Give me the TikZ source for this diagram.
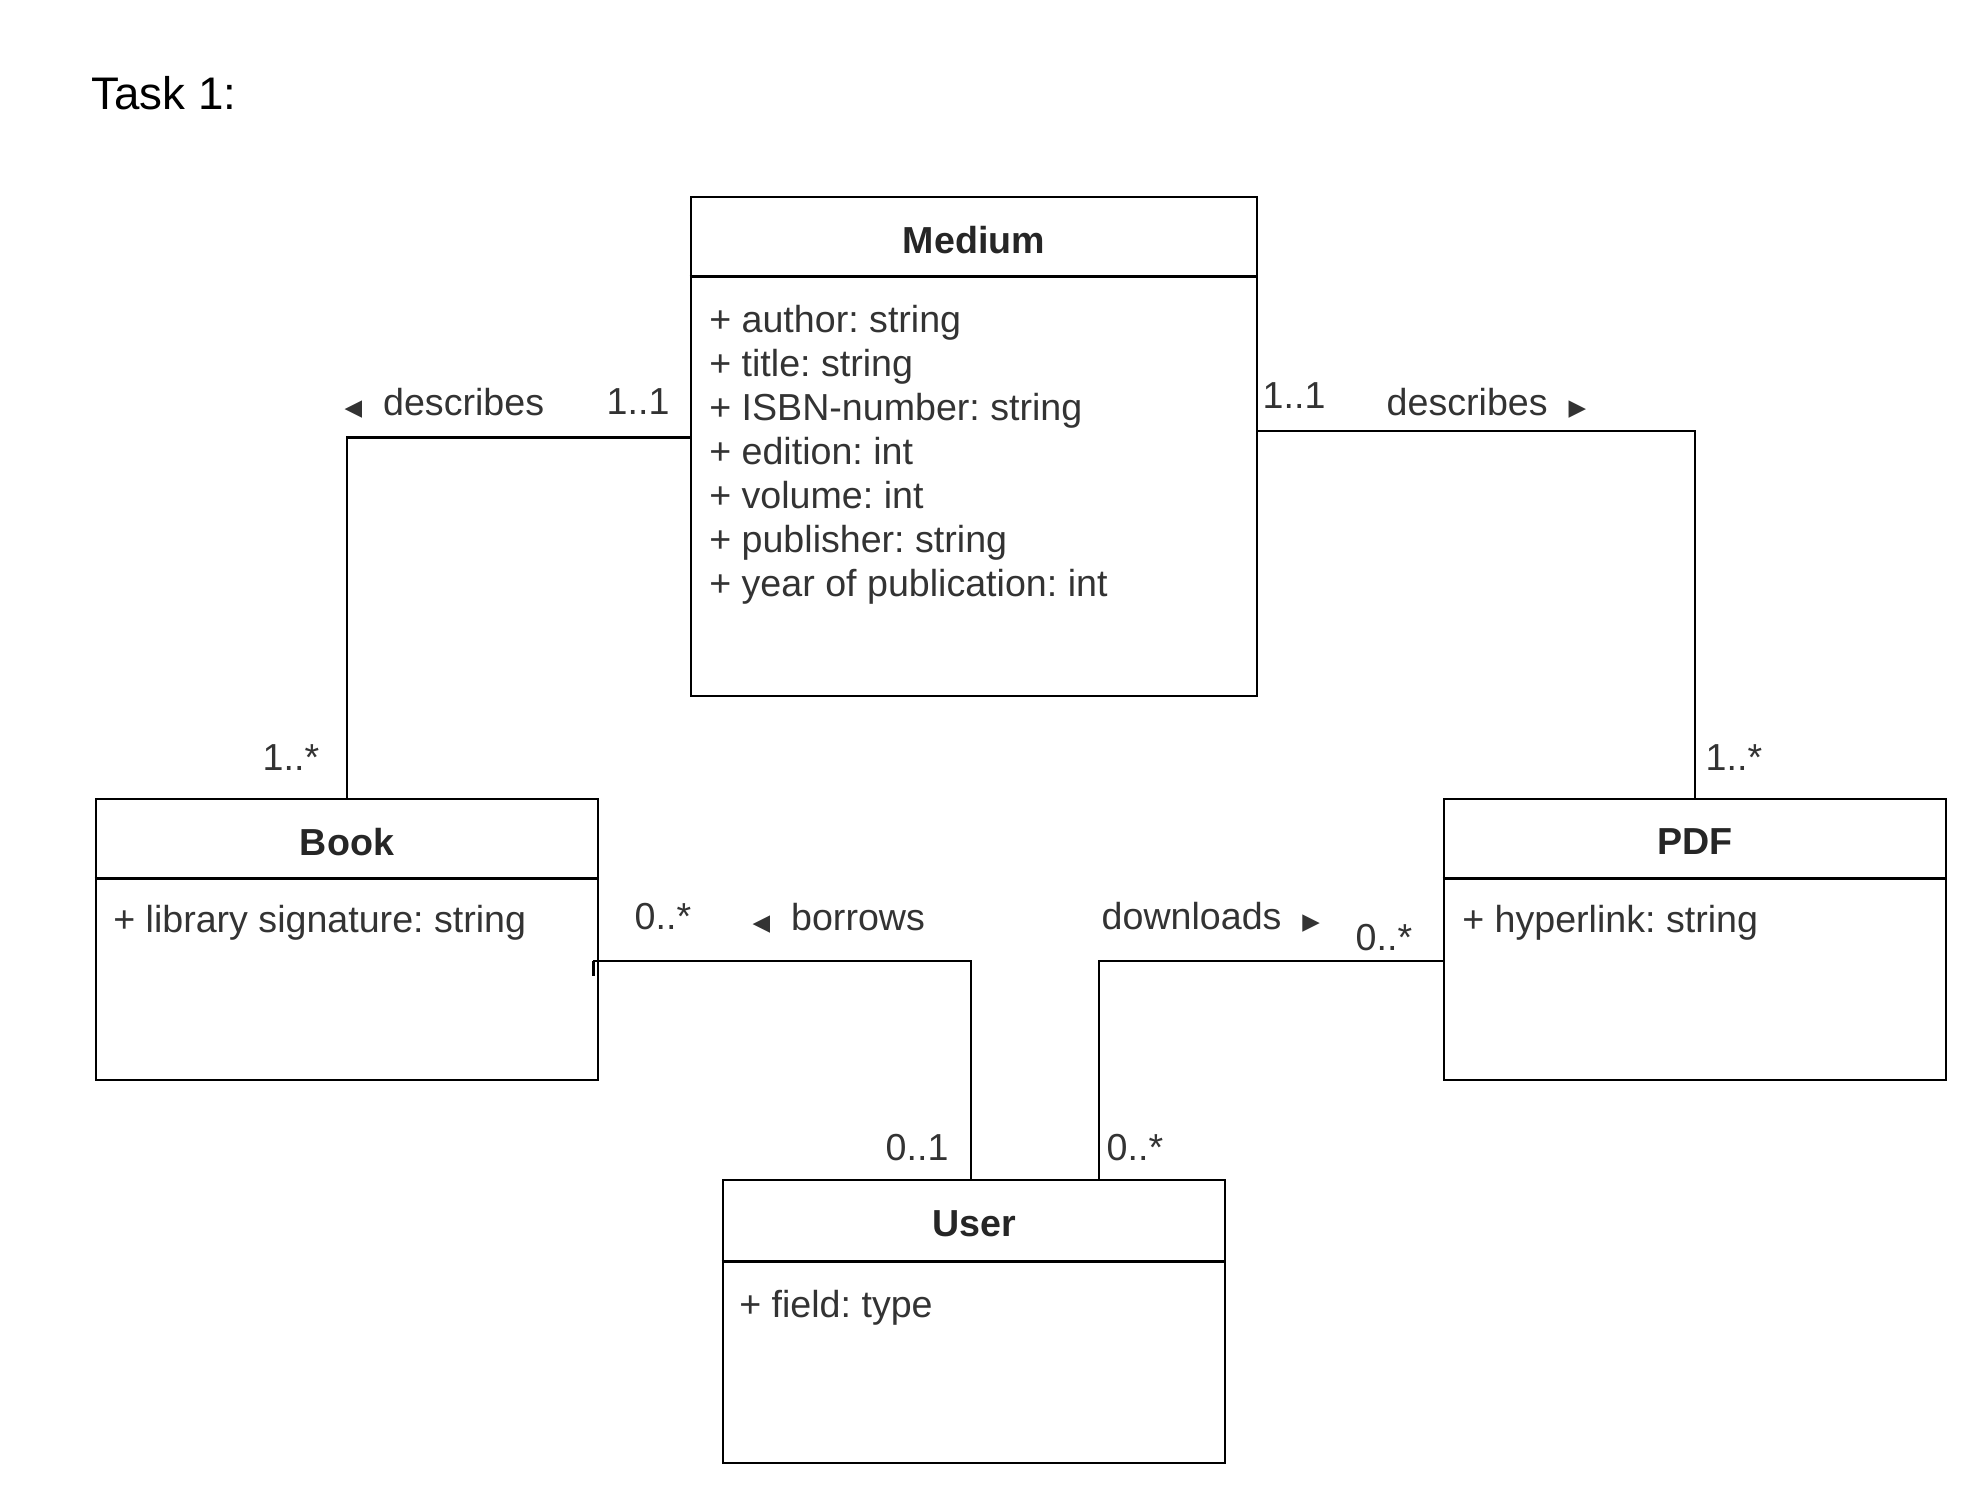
\documentclass[tikz,border=0pt]{standalone}
\usepackage{fontspec}
\setmainfont{Liberation Sans}
\newfontfamily\symfont{DejaVu Sans}
\newcommand{\lefttri}{{\symfont\fontsize{6.5}{7}\selectfont ◀}}
\newcommand{\righttri}{{\symfont\fontsize{6.5}{7}\selectfont ▶}}
\frenchspacing

\begin{document}
\begin{tikzpicture}[
  classbox/.style={draw, line width=0.8pt, inner sep=0pt},
  classname/.style={inner sep=0pt, font=\bfseries\fontsize{10.7}{12}\selectfont, text=black!85},
  attr/.style={anchor=base west, inner sep=0pt, font=\fontsize{10.7}{12}\selectfont, text=black!80},
  lbl/.style={anchor=west, inner sep=0pt, font=\fontsize{10.7}{12}\selectfont, text=black!80},
  assoc/.style={line width=0.8pt}
]
\useasboundingbox (0,0) rectangle (19.88,-15.08);

\node[anchor=west, inner sep=0pt, font=\fontsize{13}{15}\selectfont] (task) at (0.91,-0.93) {Task 1:};

% classes
\node[classbox, minimum width=5.66cm, minimum height=4.99cm] (medium) at (9.74,-4.465) {};
\node[classbox, minimum width=5.02cm, minimum height=2.81cm] (book) at (3.47,-9.395) {};
\node[classbox, minimum width=5.02cm, minimum height=2.81cm] (pdf) at (16.95,-9.395) {};
\node[classbox, minimum width=5.02cm, minimum height=2.83cm] (user) at (9.74,-13.215) {};

% header lines
\draw[assoc] ([yshift=-0.81cm]medium.north west) -- ([yshift=-0.81cm]medium.north east);
\draw[assoc] ([yshift=-0.81cm]book.north west) -- ([yshift=-0.81cm]book.north east);
\draw[assoc] ([yshift=-0.81cm]pdf.north west) -- ([yshift=-0.81cm]pdf.north east);
\draw[assoc] ([yshift=-0.83cm]user.north west) -- ([yshift=-0.83cm]user.north east);

\node[classname] (medium-name) at ([yshift=-0.44cm]medium.north) {Medium};
\node[classname] (book-name) at ([yshift=-0.44cm]book.north) {Book};
\node[classname] (pdf-name) at ([yshift=-0.44cm]pdf.north) {PDF};
\node[classname] (user-name) at ([yshift=-0.45cm]user.north) {User};

% attributes
\foreach \a [count=\i, evaluate=\i as \dy using -1.365-(\i-1)*0.44] in
  {+ author: string, + title: string, + ISBN-number: string, + edition: int,
   + volume: int, + publisher: string, + year of publication: int}
  \node[attr] (medium-a\i) at ([xshift=0.19cm, yshift=\dy cm]medium.north west) {\a};
\node[attr] (book-a1) at ([xshift=0.18cm, yshift=-1.35cm]book.north west) {+ library signature: string};
\node[attr] (pdf-a1) at ([xshift=0.19cm, yshift=-1.35cm]pdf.north west) {+ hyperlink: string};
\node[attr] (user-a1) at ([xshift=0.17cm, yshift=-1.39cm]user.north west) {+ field: type};

% associations
\draw[assoc] ([yshift=0.09cm]medium.west) -| (book.north);
\draw[assoc] ([yshift=0.155cm]medium.east) -| (pdf.north);
\draw[assoc] ([xshift=-0.06cm, yshift=-0.215cm]book.east) -| ([xshift=-0.03cm]user.north);
\draw[assoc] ([xshift=-0.06cm, yshift=-0.215cm]book.east) -- ++(0,-0.15);
\draw[assoc] ([yshift=-0.215cm]pdf.west) -| ([xshift=1.25cm]user.north);

% labels
\node[lbl] (describes-l) at (3.44,-4.03) {\lefttri\ \ describes};
\node[lbl] (mult-ml) at (6.06,-4.02) {1..1};
\node[lbl] (mult-mr) at (12.62,-3.96) {1..1};
\node[lbl] (describes-r) at (13.86,-4.03) {describes\ \ \righttri};
\node[lbl] (mult-b) at (2.62,-7.58) {1..*};
\node[lbl] (mult-p) at (17.05,-7.58) {1..*};
\node[lbl] (mult-bu) at (6.34,-9.17) {0..*};
\node[lbl] (borrows) at (7.52,-9.18) {\lefttri\ \ borrows};
\node[lbl] (downloads) at (11.01,-9.17) {downloads\ \ \righttri};
\node[lbl] (mult-pu) at (13.55,-9.38) {0..*};
\node[lbl] (mult-ub) at (8.85,-11.48) {0..1};
\node[lbl] (mult-up) at (11.06,-11.48) {0..*};
\end{tikzpicture}
\end{document}
